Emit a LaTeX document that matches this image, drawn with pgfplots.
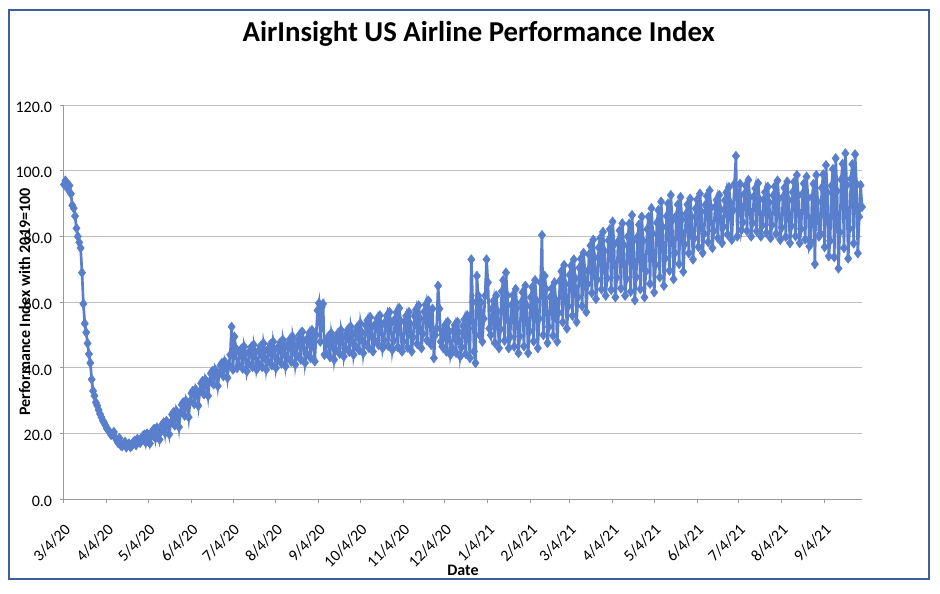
\documentclass[border=0pt]{standalone}
\usepackage{fontspec}
\setmainfont{Carlito}
\usepackage{pgfplots}
\usepackage{pgfplotstable}
\pgfplotsset{compat=1.18}

\definecolor{series}{RGB}{88,126,204}
\definecolor{frame}{RGB}{62,96,152}
\definecolor{gridgray}{RGB}{190,190,190}

% daily index values from 3/4/20, one week (Wed..Tue) per line
\pgfplotstableread[row sep=\\]{
pi\\
95.8\\97.0\\96.0\\94.3\\95.5\\93.0\\89.5\\
88.6\\86.2\\82.5\\80.0\\78.2\\76.5\\69.0\\
59.5\\53.5\\50.8\\47.5\\44.2\\41.5\\36.5\\
33.0\\31.5\\29.5\\28.5\\27.2\\26.0\\25.0\\
24.0\\23.3\\22.5\\21.5\\21.0\\20.5\\19.6\\
19.8\\20.5\\18.8\\18.0\\17.2\\18.6\\16.4\\
16.2\\16.8\\17.5\\15.8\\16.6\\17.0\\15.9\\
16.3\\17.4\\17.8\\16.5\\18.4\\17.9\\17.2\\
17.8\\19.3\\19.7\\17.3\\20.0\\19.1\\17.0\\
19.1\\20.9\\21.4\\18.6\\21.8\\20.7\\18.2\\
20.8\\22.8\\23.4\\20.2\\23.8\\22.6\\19.8\\
23.3\\25.8\\26.5\\22.5\\27.0\\25.5\\22.0\\
26.3\\28.8\\29.5\\25.5\\30.0\\28.5\\25.0\\
29.8\\32.3\\33.0\\29.0\\33.5\\32.0\\28.5\\
32.8\\35.3\\36.0\\32.0\\36.5\\35.0\\31.5\\
35.8\\38.3\\39.0\\35.0\\39.5\\38.0\\34.5\\
38.3\\40.8\\41.5\\37.5\\42.0\\40.5\\37.0\\
41.0\\44.0\\52.5\\39.5\\49.5\\46.0\\40.0\\
40.9\\44.6\\45.8\\39.8\\46.5\\44.3\\39.0\\
41.4\\45.1\\46.3\\40.3\\47.0\\44.8\\39.5\\
41.5\\45.5\\46.7\\40.3\\47.5\\45.1\\39.5\\
42.0\\46.0\\47.2\\40.8\\48.0\\45.6\\40.0\\
42.5\\46.5\\47.7\\41.3\\48.5\\46.1\\40.5\\
43.1\\47.4\\48.7\\41.9\\49.5\\47.0\\41.0\\
43.9\\48.6\\50.1\\42.5\\51.0\\48.2\\41.5\\
44.4\\49.1\\50.6\\43.0\\51.5\\48.7\\42.0\\
50.0\\57.5\\59.7\\48.0\\58.5\\59.5\\44.0\\
44.5\\48.5\\49.7\\43.3\\50.5\\48.1\\42.5\\
45.5\\49.5\\50.7\\44.3\\51.5\\49.1\\43.5\\
46.1\\50.4\\51.7\\44.9\\52.5\\50.0\\44.0\\
46.8\\51.3\\52.6\\45.4\\53.5\\50.8\\44.5\\
47.6\\52.9\\54.5\\46.1\\55.5\\52.4\\45.0\\
48.5\\53.5\\55.0\\47.0\\56.0\\53.0\\46.0\\
48.4\\54.1\\55.9\\46.7\\57.0\\53.6\\45.5\\
48.3\\54.9\\56.9\\46.3\\58.2\\54.2\\45.0\\
48.0\\54.0\\55.8\\46.2\\57.0\\53.4\\45.0\\
49.3\\55.8\\57.7\\47.3\\59.0\\55.1\\46.0\\
50.4\\57.1\\59.2\\48.4\\60.5\\56.5\\47.0\\
58.0\\43.0\\50.0\\52.0\\65.0\\58.0\\48.0\\
46.5\\51.5\\53.0\\45.0\\54.0\\51.0\\44.0\\
46.1\\51.4\\53.0\\44.6\\54.0\\50.9\\43.5\\
46.3\\52.8\\54.7\\44.3\\56.0\\52.1\\43.0\\
73.0\\60.0\\45.0\\41.5\\68.0\\62.0\\50.0\\
60.0\\48.0\\55.0\\62.0\\73.0\\66.0\\52.0\\
50.0\\58.0\\60.4\\47.6\\62.0\\57.2\\46.0\\
51.8\\63.3\\66.7\\48.3\\69.0\\62.1\\46.0\\
49.4\\59.1\\62.1\\46.5\\64.0\\58.2\\44.5\\
49.6\\59.9\\63.0\\46.6\\65.0\\58.9\\44.5\\
51.2\\61.5\\64.6\\48.1\\66.7\\60.5\\46.0\\
55.0\\66.0\\80.4\\50.0\\68.0\\64.0\\47.6\\
52.5\\61.5\\64.2\\49.8\\66.0\\60.6\\48.0\\
56.8\\66.5\\69.4\\53.9\\71.3\\65.5\\52.0\\
58.8\\68.3\\71.1\\55.9\\73.0\\67.3\\54.0\\
61.5\\70.5\\73.2\\58.8\\75.0\\69.6\\57.0\\
65.5\\74.5\\77.2\\62.8\\79.0\\73.6\\61.0\\
66.9\\76.6\\79.5\\63.9\\81.4\\75.6\\62.0\\
67.3\\78.8\\82.2\\63.8\\84.5\\77.6\\61.5\\
67.5\\78.5\\81.8\\64.2\\84.0\\77.4\\62.0\\
67.1\\80.0\\83.9\\63.2\\86.5\\78.7\\60.6\\
67.6\\79.9\\83.6\\64.0\\86.0\\78.7\\61.5\\
69.4\\82.2\\86.0\\65.6\\88.6\\80.9\\63.0\\
71.4\\84.2\\88.0\\67.6\\90.6\\82.9\\65.0\\
73.4\\86.2\\90.0\\69.6\\92.6\\84.9\\67.0\\
75.0\\86.3\\89.7\\71.6\\92.0\\85.2\\69.3\\
77.6\\86.9\\89.7\\74.9\\91.5\\86.0\\73.0\\
79.5\\88.5\\91.2\\76.8\\93.0\\87.6\\75.0\\
80.9\\89.6\\92.3\\78.3\\94.0\\88.8\\76.5\\
81.7\\89.0\\91.1\\79.5\\92.6\\88.2\\78.0\\
83.0\\91.0\\93.4\\80.6\\95.0\\90.2\\79.0\\
88.0\\96.0\\104.5\\80.0\\92.0\\96.0\\82.0\\
84.3\\92.9\\95.5\\81.7\\97.2\\92.0\\80.0\\
84.1\\92.2\\94.6\\81.6\\96.2\\91.3\\80.0\\
83.4\\91.2\\93.5\\81.1\\95.1\\90.4\\79.5\\
83.5\\92.5\\95.2\\80.8\\97.0\\91.6\\79.0\\
82.7\\92.0\\94.8\\79.9\\96.7\\91.1\\78.0\\
83.2\\93.5\\96.6\\80.1\\98.7\\92.5\\78.0\\
82.3\\92.9\\96.1\\79.1\\98.2\\91.8\\77.0\\
78.4\\91.9\\96.0\\71.6\\98.7\\90.6\\80.0\\
80.9\\94.8\\98.9\\76.8\\101.7\\93.4\\74.0\\
78.7\\95.4\\100.5\\73.7\\103.8\\93.8\\70.3\\
81.3\\97.3\\102.1\\76.5\\105.3\\95.7\\73.3\\
82.4\\97.5\\102.0\\77.9\\105.0\\96.0\\74.9\\
86.0\\95.6\\89.0\\
}\pidata

\begin{document}
\begin{tikzpicture}
% page = 940 x 593 px at 0.75pt per px, axis box starts at (0,0)
\path[use as bounding box] (-48pt,-70.3pt) rectangle (657pt,374.5pt);
\draw[frame, line width=2pt] (-41.25pt,-59.8pt) rectangle (648.75pt,367pt);
\begin{axis}[
    at={(0,0)}, anchor=south west,
    scale only axis,
    width=598.5pt, height=295.7pt,
    xmin=0, xmax=576, ymin=0, ymax=120,
    clip=false,
    axis x line*=bottom, axis y line*=left,
    axis line style={draw=gray!80, line width=0.75pt},
    tick align=outside,
    major tick length=3pt,
    tick style={draw=gray!80, line width=0.75pt},
    ymajorgrids,
    grid style={draw=gridgray, line width=0.75pt},
    xtick={0,31,61,92,122,153,184,214,245,275,306,337,365,396,426,457,487,518,549},
    xticklabels={3/4/20,4/4/20,5/4/20,6/4/20,7/4/20,8/4/20,9/4/20,10/4/20,11/4/20,12/4/20,1/4/21,2/4/21,3/4/21,4/4/21,5/4/21,6/4/21,7/4/21,8/4/21,9/4/21},
    ytick={0,20,40,60,80,100,120},
    /pgf/number format/assume math mode=true,
    yticklabel style={/pgf/number format/.cd, fixed, fixed zerofill, precision=1, /tikz/.cd,
        anchor=east, inner sep=0pt, xshift=-5.75pt, yshift=-1.5pt, font=\fontsize{12}{14}\selectfont},
    % shifts are given in the rotated frame
    xticklabel style={rotate=45, anchor=east, inner sep=0pt, xshift=-10.57pt, yshift=-14.6pt,
        font=\fontsize{12}{14}\selectfont},
    title={AirInsight US Airline Performance Index},
    title style={at={(axis description cs:0.5197,1.14)}, anchor=base, yshift=0pt,
        font=\fontsize{21.6}{26}\selectfont\bfseries},
    xlabel={Date},
    every axis x label/.style={at={(axis description cs:0.5,-0.1938)}, anchor=base,
        font=\fontsize{12}{14}\selectfont\bfseries},
    ylabel={Performance Index with 2019=100},
    every axis y label/.style={at={(axis description cs:-0.0426,0.5)}, anchor=base, rotate=90,
        font=\fontsize{12}{14}\selectfont\bfseries},
]
\addplot[color=series, line width=2pt, mark=diamond*, mark size=3.6pt,
    mark options={solid, fill=series, draw=series, line width=0.4pt}]
    table[x expr=\coordindex, y=pi] {\pidata};
\end{axis}
\end{tikzpicture}
\end{document}
